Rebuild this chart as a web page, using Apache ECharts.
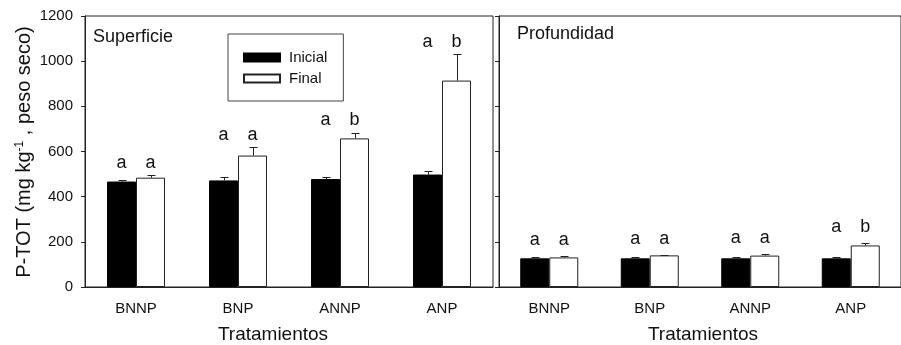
<!DOCTYPE html>
<html>
<head>
<meta charset="utf-8">
<script src="https://cdn.jsdelivr.net/npm/echarts@6/dist/echarts.min.js"></script>
<style>
  html, body { margin: 0; padding: 0; background: #fff; }
  #chart { width: 901px; height: 345px; }
</style>
</head>
<body>
<div id="chart"></div>
<script>
(function () {
  "use strict";
  var categories = ['BNNP', 'BNP', 'ANNP', 'ANP'];
  var yTicks = [0, 200, 400, 600, 800, 1000, 1200];

  // Superficie
  var supInicial = [467, 472, 478, 498];
  var supInicialErr = [5, 15, 9, 16];
  var supFinal = [484, 582, 658, 914];
  var supFinalErr = [14, 40, 26, 116];
  var supLetrasInicial = ['a', 'a', 'a', 'a'];
  var supLetrasFinal = ['a', 'a', 'b', 'b'];

  // Profundidad
  var profInicial = [127, 127, 127, 127];
  var profInicialErr = [7, 7, 7, 7];
  var profFinal = [131, 140, 139, 184];
  var profFinalErr = [5, 3, 7, 10];
  var profLetrasInicial = ['a', 'a', 'a', 'a'];
  var profLetrasFinal = ['a', 'a', 'a', 'b'];

  var FONT = 'Liberation Sans, Arial, sans-serif';
  var INK = '#111';
  var AXIS = '#222';
  var BAR_W = 29;
  var HALF = BAR_W / 2;

  function errData(vals, errs) {
    return vals.map(function (v, i) { return [i, v, errs[i]]; });
  }

  function errorBar(shift) {
    return function (params, api) {
      var i = api.value(0);
      var v = api.value(1);
      var e = api.value(2);
      var base = api.coord([i, v]);
      var top = api.coord([i, v + e]);
      var x = Math.round(base[0] + shift) + 0.5;
      var yt = Math.round(top[1]) + 0.5;
      return {
        type: 'group',
        children: [
          { type: 'line', shape: { x1: x, y1: base[1], x2: x, y2: yt }, style: { stroke: AXIS, lineWidth: 1 } },
          { type: 'line', shape: { x1: x - 4, y1: yt, x2: x + 4, y2: yt }, style: { stroke: AXIS, lineWidth: 1 } }
        ]
      };
    };
  }

  function letterData(a, ea, b, eb) {
    return a.map(function (v, i) { return [i, Math.max(v + ea[i], b[i] + eb[i])]; });
  }

  function letters(left, right, gap) {
    return function (params, api) {
      var p = api.coord([api.value(0), api.value(1)]);
      var idx = params.dataIndex;
      var st = { fontSize: 18, fontFamily: FONT, fill: INK, align: 'center', verticalAlign: 'bottom' };
      return {
        type: 'group',
        children: [
          { type: 'text', x: p[0] - HALF, y: p[1] - gap, style: Object.assign({ text: left[idx] }, st) },
          { type: 'text', x: p[0] + HALF, y: p[1] - gap, style: Object.assign({ text: right[idx] }, st) }
        ]
      };
    };
  }

  function xAxisFor(gridIndex) {
    return {
      type: 'category',
      gridIndex: gridIndex,
      data: categories,
      axisLine: { lineStyle: { color: AXIS, width: 1 } },
      axisTick: { alignWithLabel: true, length: 4, lineStyle: { color: AXIS } },
      axisLabel: { fontSize: 15, fontFamily: FONT, color: INK, margin: 14 }
    };
  }

  function yAxisFor(gridIndex, labels) {
    return {
      type: 'value',
      gridIndex: gridIndex,
      min: yTicks[0],
      max: yTicks[yTicks.length - 1],
      interval: yTicks[1] - yTicks[0],
      splitLine: { show: false },
      axisLine: { show: true, lineStyle: { color: AXIS, width: 1 } },
      axisTick: { show: true, length: 4, lineStyle: { color: AXIS } },
      axisLabel: {
        show: labels, fontSize: 15, fontFamily: FONT, color: INK, margin: 12,
        formatter: function (v) { return String(v); }
      }
    };
  }

  var option = {
    animation: false,
    backgroundColor: '#fff',
    grid: [
      { left: 85, top: 16, width: 408, height: 271, show: true, borderColor: AXIS, borderWidth: 1 },
      { left: 499, top: 16, width: 409, height: 271, show: true, borderColor: AXIS, borderWidth: 1 }
    ],
    xAxis: [xAxisFor(0), xAxisFor(1)],
    yAxis: [yAxisFor(0, true), yAxisFor(1, false)],
    legend: {
      data: ['Inicial', 'Final'],
      orient: 'vertical',
      left: 228,
      top: 34,
      padding: [16, 16, 15, 15],
      itemGap: 6,
      itemWidth: 36,
      itemHeight: 8,
      borderColor: '#444',
      borderWidth: 1,
      icon: 'rect',
      textStyle: { fontSize: 15, fontFamily: FONT, color: INK, padding: [0, 0, 0, 4] }
    },
    graphic: [
      { type: 'text', x: 93, y: 37, style: { text: 'Superficie', fontSize: 18, fontFamily: FONT, fill: INK, verticalAlign: 'middle' } },
      { type: 'text', x: 517, y: 34, style: { text: 'Profundidad', fontSize: 18, fontFamily: FONT, fill: INK, verticalAlign: 'middle' } },
      { type: 'text', x: 273, y: 335, style: { text: 'Tratamientos', fontSize: 19, fontFamily: FONT, fill: INK, align: 'center', verticalAlign: 'middle' } },
      { type: 'text', x: 703, y: 335, style: { text: 'Tratamientos', fontSize: 19, fontFamily: FONT, fill: INK, align: 'center', verticalAlign: 'middle' } },
      {
        type: 'text', x: 24, y: 152, rotation: Math.PI / 2,
        style: {
          text: '{a|P-TOT (mg kg}{s|-1}{a| , peso seco)}',
          align: 'center', verticalAlign: 'middle', fill: INK,
          rich: {
            a: { fontSize: 20, fontFamily: FONT, fill: INK },
            s: { fontSize: 12, fontFamily: FONT, fill: INK, verticalAlign: 'top' }
          }
        }
      }
    ],
    series: [
      { name: 'Inicial', type: 'bar', xAxisIndex: 0, yAxisIndex: 0, data: supInicial, barWidth: BAR_W, barGap: '0%',
        itemStyle: { color: '#000', borderColor: '#000', borderWidth: 1 } },
      { name: 'Final', type: 'bar', xAxisIndex: 0, yAxisIndex: 0, data: supFinal, barWidth: BAR_W, barGap: '0%',
        itemStyle: { color: '#fff', borderColor: '#222', borderWidth: 1 } },
      { name: 'Inicial', type: 'bar', xAxisIndex: 1, yAxisIndex: 1, data: profInicial, barWidth: BAR_W, barGap: '0%',
        itemStyle: { color: '#000', borderColor: '#000', borderWidth: 1 } },
      { name: 'Final', type: 'bar', xAxisIndex: 1, yAxisIndex: 1, data: profFinal, barWidth: BAR_W, barGap: '0%',
        itemStyle: { color: '#fff', borderColor: '#222', borderWidth: 1 } },
      { type: 'custom', xAxisIndex: 0, yAxisIndex: 0, z: 3, data: errData(supInicial, supInicialErr), renderItem: errorBar(-HALF) },
      { type: 'custom', xAxisIndex: 0, yAxisIndex: 0, z: 3, data: errData(supFinal, supFinalErr), renderItem: errorBar(HALF) },
      { type: 'custom', xAxisIndex: 1, yAxisIndex: 1, z: 3, data: errData(profInicial, profInicialErr), renderItem: errorBar(-HALF) },
      { type: 'custom', xAxisIndex: 1, yAxisIndex: 1, z: 3, data: errData(profFinal, profFinalErr), renderItem: errorBar(HALF) },
      { type: 'custom', xAxisIndex: 0, yAxisIndex: 0, z: 4,
        data: letterData(supInicial, supInicialErr, supFinal, supFinalErr),
        renderItem: letters(supLetrasInicial, supLetrasFinal, 3) },
      { type: 'custom', xAxisIndex: 1, yAxisIndex: 1, z: 4,
        data: letterData(profInicial, profInicialErr, profFinal, profFinalErr),
        renderItem: letters(profLetrasInicial, profLetrasFinal, 7) }
    ]
  };

  var chart = echarts.init(document.getElementById('chart'));
  chart.setOption(option);
})();
</script>
</body>
</html>
